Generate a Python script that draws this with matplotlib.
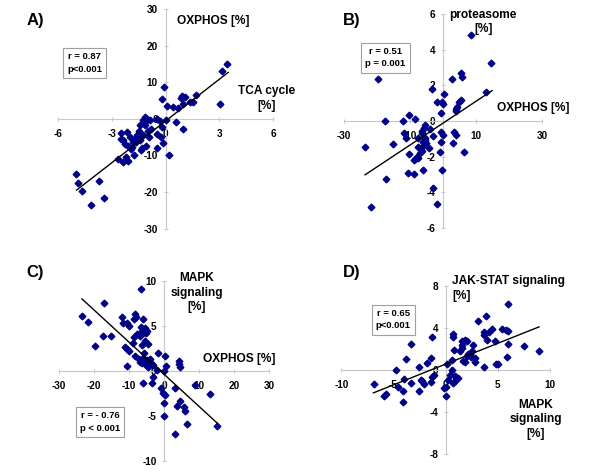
import numpy as np
import matplotlib.pyplot as plt

plt.rcParams['font.family'] = ['Liberation Sans', 'DejaVu Sans']
plt.rcParams['font.weight'] = 'bold'

# ---------------- data ----------------
# A) TCA cycle [%] (x) vs OXPHOS [%] (y)
a_x = [3.45, 3.15, 3.06, 1.67, 1.54, 1.35, 1.08, 0.91, 0.87, 0.98, 0.67, 0.43, 0.58, 0.95,
       -0.09, -0.19, 0.06, 0.02, -0.5, -0.32, -0.22, -0.46, -0.26, -0.13, -0.45, 0.17,
       -1.15, -1.02, -1.1, -1.24, -0.87, -1.43, -1.15, -1.0, -1.28, -1.58, -1.43, -1.71,
       -1.8, -1.65, -1.43, -1.06, -1.34, -1.3, -1.89, -2.08, -2.45, -2.12, -2.36, -2.26,
       -1.74, -2.2, -2.1, -2.36, -2.63, -2.49, -5.0, -4.86, -4.64, -3.69, -3.41, -4.12,
       -1.47, -0.78, -0.91, -1.99, -1.93]
a_y = [15.0, 13.2, 4.1, 6.6, 4.7, 4.5, 5.9, 6.2, 5.6, 4.1, 3.0, 3.2, -0.9, -2.9,
       8.6, 5.5, 3.6, -0.3, 0.0, -0.5, -2.3, -4.1, -5.0, -6.5, -7.9, -10.0,
       0.4, 0.0, -0.5, -0.3, -0.3, -1.8, -1.8, -3.2, -4.4, -4.5, -4.8, -5.5,
       -6.4, -6.4, -5.9, -7.3, -8.6, -8.0, -7.7, -7.5, -3.8, -3.6, -5.9, -6.8,
       -10.0, -10.5, -11.6, -11.8, -11.1, -5.5, -15.0, -17.5, -19.7, -17.1, -21.6, -23.5,
       -3.2, -2.7, -5.0, -5.0, -8.2]
a_fit = (3.81, -0.6)
a_fit_x = (-4.95, 3.49)

# B) OXPHOS [%] (x) vs proteasome [%] (y)
b_x = [8.5, 14.6, 12.8, 5.35, 5.76, 2.63, 5.35, 4.85, 4.04, 3.74, 4.0, 0.2, -0.3, -0.1,
       -2.0, -3.5, -0.8, -19.9, -17.7, -10.4, -12.1, -8.6, -5.6, -5.9, -6.6, -4.0, -6.6,
       -11.8, -11.4, -3.0, -0.7, 0.0, 3.3, 3.8, 2.8, 6.4, -0.8, -1.0, -0.3, -3.2, -2.0,
       -22.0, -23.7, -17.4, -15.2, -10.8, -8.9, -10.3, -8.8, -8.3, -7.6, -7.1, -7.6, -6.6,
       -6.1, -5.4, -5.1, -6.1, -4.2, -5.6, -7.6, -8.1, -6.6]
b_y = [4.84, 3.28, 1.65, 2.68, 2.5, 2.36, 1.18, 1.05, 0.81, 0.56, 0.68, 1.52, 1.05, 0.94,
       1.09, 1.78, 0.43, 2.36, 0.0, 0.34, 0.0, 0.1, -0.23, -0.41, -0.56, -0.47, -0.69,
       -0.69, -0.94, -0.84, -0.64, -0.79, -0.6, -0.79, -1.26, -1.73, -1.16, -1.76, -2.76, -3.79, -4.67,
       -4.82, -1.44, -3.25, -1.31, -2.9, -2.98, -1.88, -2.2, -2.1, -2.06, -1.82, -1.48, -1.44,
       -1.16, -1.07, -1.26, -2.76, -1.54, -0.98, -0.98, -2.0, -1.69]
b_fit = (0.123, -0.11)
b_fit_x = (-23.7, 14.8)

# C) OXPHOS [%] (x) vs MAPK signaling [%] (y)
c_x = [-6.6, -17.1, -23.5, -21.8, -19.7, -17.6, -15.1, -12.1, -11.8, -10.2, -10.7, -8.3,
       -8.0, -8.6, -6.1, -6.6, -5.4, -5.0, -6.1, -6.9, -7.8, -6.9, -8.6, -5.1, -5.6, -4.8,
       -9.0, -11.1, -10.7, -10.2, -6.4, -5.9, -8.3, -7.3, -7.0, -6.1, -6.4, -5.0, -4.2,
       -3.8, -5.1, -3.2, -4.8, -1.9, 0.1, 0.6, -10.7, -2.1, -3.2, -3.5, -6.1, -1.0, -0.4,
       0.1, -0.2, -0.2, 3.0, 4.1, 4.1, 4.4, 8.7, 4.6, 3.6, 5.5, 6.0, 6.5, 13.1, 15.0, 3.1, -0.2]
c_y = [9.08, 7.49, 6.13, 5.46, 2.8, 3.9, 3.9, 5.94, 5.28, 4.98, 5.28, 6.27,
       6.0, 5.76, 5.76, 4.83, 4.8, 4.46, 4.17, 3.87, 4.06, 4.24, 3.8, 4.17, 3.36, 2.99,
       3.06, 2.62, 2.4, 2.21, 2.88, 2.03, 1.66, 1.29, 1.03, 1.4, 0.85, 1.22, 1.29,
       0.85, 0.66, 0.66, 0.41, 2.03, 1.66, 0.59, 0.59, 0.11, -0.7, -1.37, -1.37, -1.92, -2.4,
       -2.66, -3.5, -4.98, -1.92, 1.14, 0.77, 0.41, -1.55, -3.32, -3.87, -4.02, -4.39, -5.87,
       -2.58, -6.05, -6.97, 0.04]
c_fit = (-0.356, -0.39)
c_fit_x = (-23.5, 15.2)

# D) MAPK signaling [%] (x) vs JAK-STAT signaling [%] (y)
d_x = [5.94, 3.83, 3.07, 4.41, 5.37, 5.75, 5.94, 3.67, 4.19, 3.71, 3.96, 4.73, 6.01, 7.48,
       8.95, 5.91, 4.82, 5.05, 3.71, 2.65, 2.56, 2.01, 1.85, 1.6, 1.53, 1.37, 2.11, 2.33,
       2.01, 2.4, 2.81, 2.81, 1.85, 1.63, 1.53, 0.73, 0.73, 0.8, 0.64, 0.58, 0.1, 0.42,
       0.89, 0.96, 0.89, 0.73, 1.21, 0.26, 0.0, -0.13, 0.0, -1.34, -1.41, -1.82, -1.09,
       -1.28, -1.44, -2.56, -2.36, -2.24, -2.04, -2.52, -3.32, -3.83, -3.99, -4.76, -4.6,
       -4.06, -3.32, -4.12, -5.75, -5.88, -6.87]
d_y = [6.24, 5.13, 4.63, 3.93, 3.93, 3.83, 3.71, 3.61, 3.61, 3.3, 2.88, 2.76, 2.5, 2.25,
       1.81, 1.24, 0.54, 0.54, 0.29, 2.34, 1.81, 2.76, 2.82, 2.76, 2.34, 1.77, 1.55, 1.49,
       1.3, 1.24, 1.08, 0.76, 0.76, 0.86, 2.03, 3.45, 3.14, 1.87, 0.92, -0.03, 0.6, -0.51,
       -0.6, -0.82, -1.05, -1.24, -0.73, -0.98, -1.62, -1.68, -2.5, 3.14, 1.08, 0.67, -0.51,
       -0.67, -1.14, 0.29, -0.92, -1.05, -1.36, -2.03, 2.5, 1.01, -0.89, 0.03, -1.62,
       -2.0, -1.24, -3.04, -2.25, -2.5, -1.3]
d_fit = (0.395, 0.55)
d_fit_x = (-6.93, 8.95)

W, H = 600, 474
fig = plt.figure(figsize=(6, 4.74), dpi=100)


def px(x, y):
    return x / W, 1 - y / H


def panel(rect, xs, ys, fit, fit_x, xlim, ylim, xticks, yticks):
    l, t, r, b = rect
    ax = fig.add_axes([l / W, 1 - b / H, (r - l) / W, (b - t) / H])
    ax.plot(xs, ys, 'D', color='#000088', ms=3.4, mec='#000088', zorder=3)
    fx = np.array(fit_x)
    ax.plot(fx, fit[0] * fx + fit[1], color='black', lw=1.0, zorder=4)
    ax.set_xlim(*xlim)
    ax.set_ylim(*ylim)
    ax.spines[['left', 'bottom']].set_position(('data', 0))
    ax.spines[['left', 'bottom']].set_color('#c8c8c8')
    ax.spines[['top', 'right']].set_visible(False)
    ax.set_xticks(xticks)
    ax.set_yticks(yticks)
    ax.set_xticklabels([str(v) for v in xticks])
    ax.set_yticklabels([str(v) for v in yticks])
    ax.tick_params(direction='inout', length=3, color='#c8c8c8', labelsize=7.2)
    ax.tick_params(axis='x', pad=6)
    ax.tick_params(axis='y', pad=4)
    ax.patch.set_alpha(0)
    for lab in ax.get_xticklabels() + ax.get_yticklabels():
        lab.set_fontweight('bold')
    return ax


panel((57.7, 9, 273.3, 228.7), a_x, a_y, a_fit, a_fit_x, (-6, 6), (-30, 30),
      [-6, -3, 0, 3, 6], [-30, -20, -10, 0, 10, 20, 30])
panel((344.3, 14.3, 542.3, 227.7), b_x, b_y, b_fit, b_fit_x, (-30, 30), (-6, 6),
      [-30, -10, 10, 30], [-6, -4, -2, 0, 2, 4, 6])
panel((59.3, 280.7, 269.3, 461.3), c_x, c_y, c_fit, c_fit_x, (-30, 30), (-10, 10),
      [-30, -20, -10, 0, 10, 20, 30], [-10, -5, 0, 5, 10])
panel((341.4, 285.7, 550, 454), d_x, d_y, d_fit, d_fit_x, (-10, 10), (-8, 8),
      [-10, -5, 0, 5, 10], [-8, -4, 0, 4, 8])

lab_kw = dict(fontsize=8.6, fontweight='bold', linespacing=1.3)
box_kw = dict(fontsize=6.8, fontweight='bold', ha='center', va='center', linespacing=1.5,
              bbox=dict(boxstyle='square,pad=0.45', fc='white', ec='#a0a0a0', lw=0.8))
tag_kw = dict(fontsize=12, fontweight='bold', ha='left', va='center')

# A
fig.text(*px(26.7, 20.7), 'A)', **tag_kw)
fig.text(*px(213.3, 20.7), 'OXPHOS [%]', ha='center', va='center', **lab_kw)
fig.text(*px(267, 98.7), 'TCA cycle\n[%]', ha='center', va='center', **lab_kw)
fig.text(*px(84.5, 63), 'r = 0.87\np<0.001', **box_kw)
# B
fig.text(*px(343.3, 20), 'B)', **tag_kw)
fig.text(*px(483.3, 22), 'proteasome\n[%]', ha='center', va='center', **lab_kw)
fig.text(*px(533.3, 108.3), 'OXPHOS [%]', ha='center', va='center', **lab_kw)
fig.text(*px(385.3, 57.7), 'r = 0.51\np = 0.001', **box_kw)
# C
fig.text(*px(26.7, 272.7), 'C)', **tag_kw)
fig.text(*px(196.7, 292.7), 'MAPK\nsignaling\n[%]', ha='center', va='center', **lab_kw)
fig.text(*px(239.3, 358.7), 'OXPHOS [%]', ha='center', va='center', **lab_kw)
fig.text(*px(100, 422), 'r = - 0.76\np < 0.001', **box_kw)
# D
fig.text(*px(343.3, 272.7), 'D)', **tag_kw)
fig.text(*px(452.3, 288.7), 'JAK-STAT signaling\n[%]', ha='left', va='center', **lab_kw)
fig.text(*px(536, 419.3), 'MAPK\nsignaling\n[%]', ha='center', va='center', **lab_kw)
fig.text(*px(393.3, 319.5), 'r = 0.65\np<0.001', **box_kw)

fig.savefig('out.png', dpi=100)
